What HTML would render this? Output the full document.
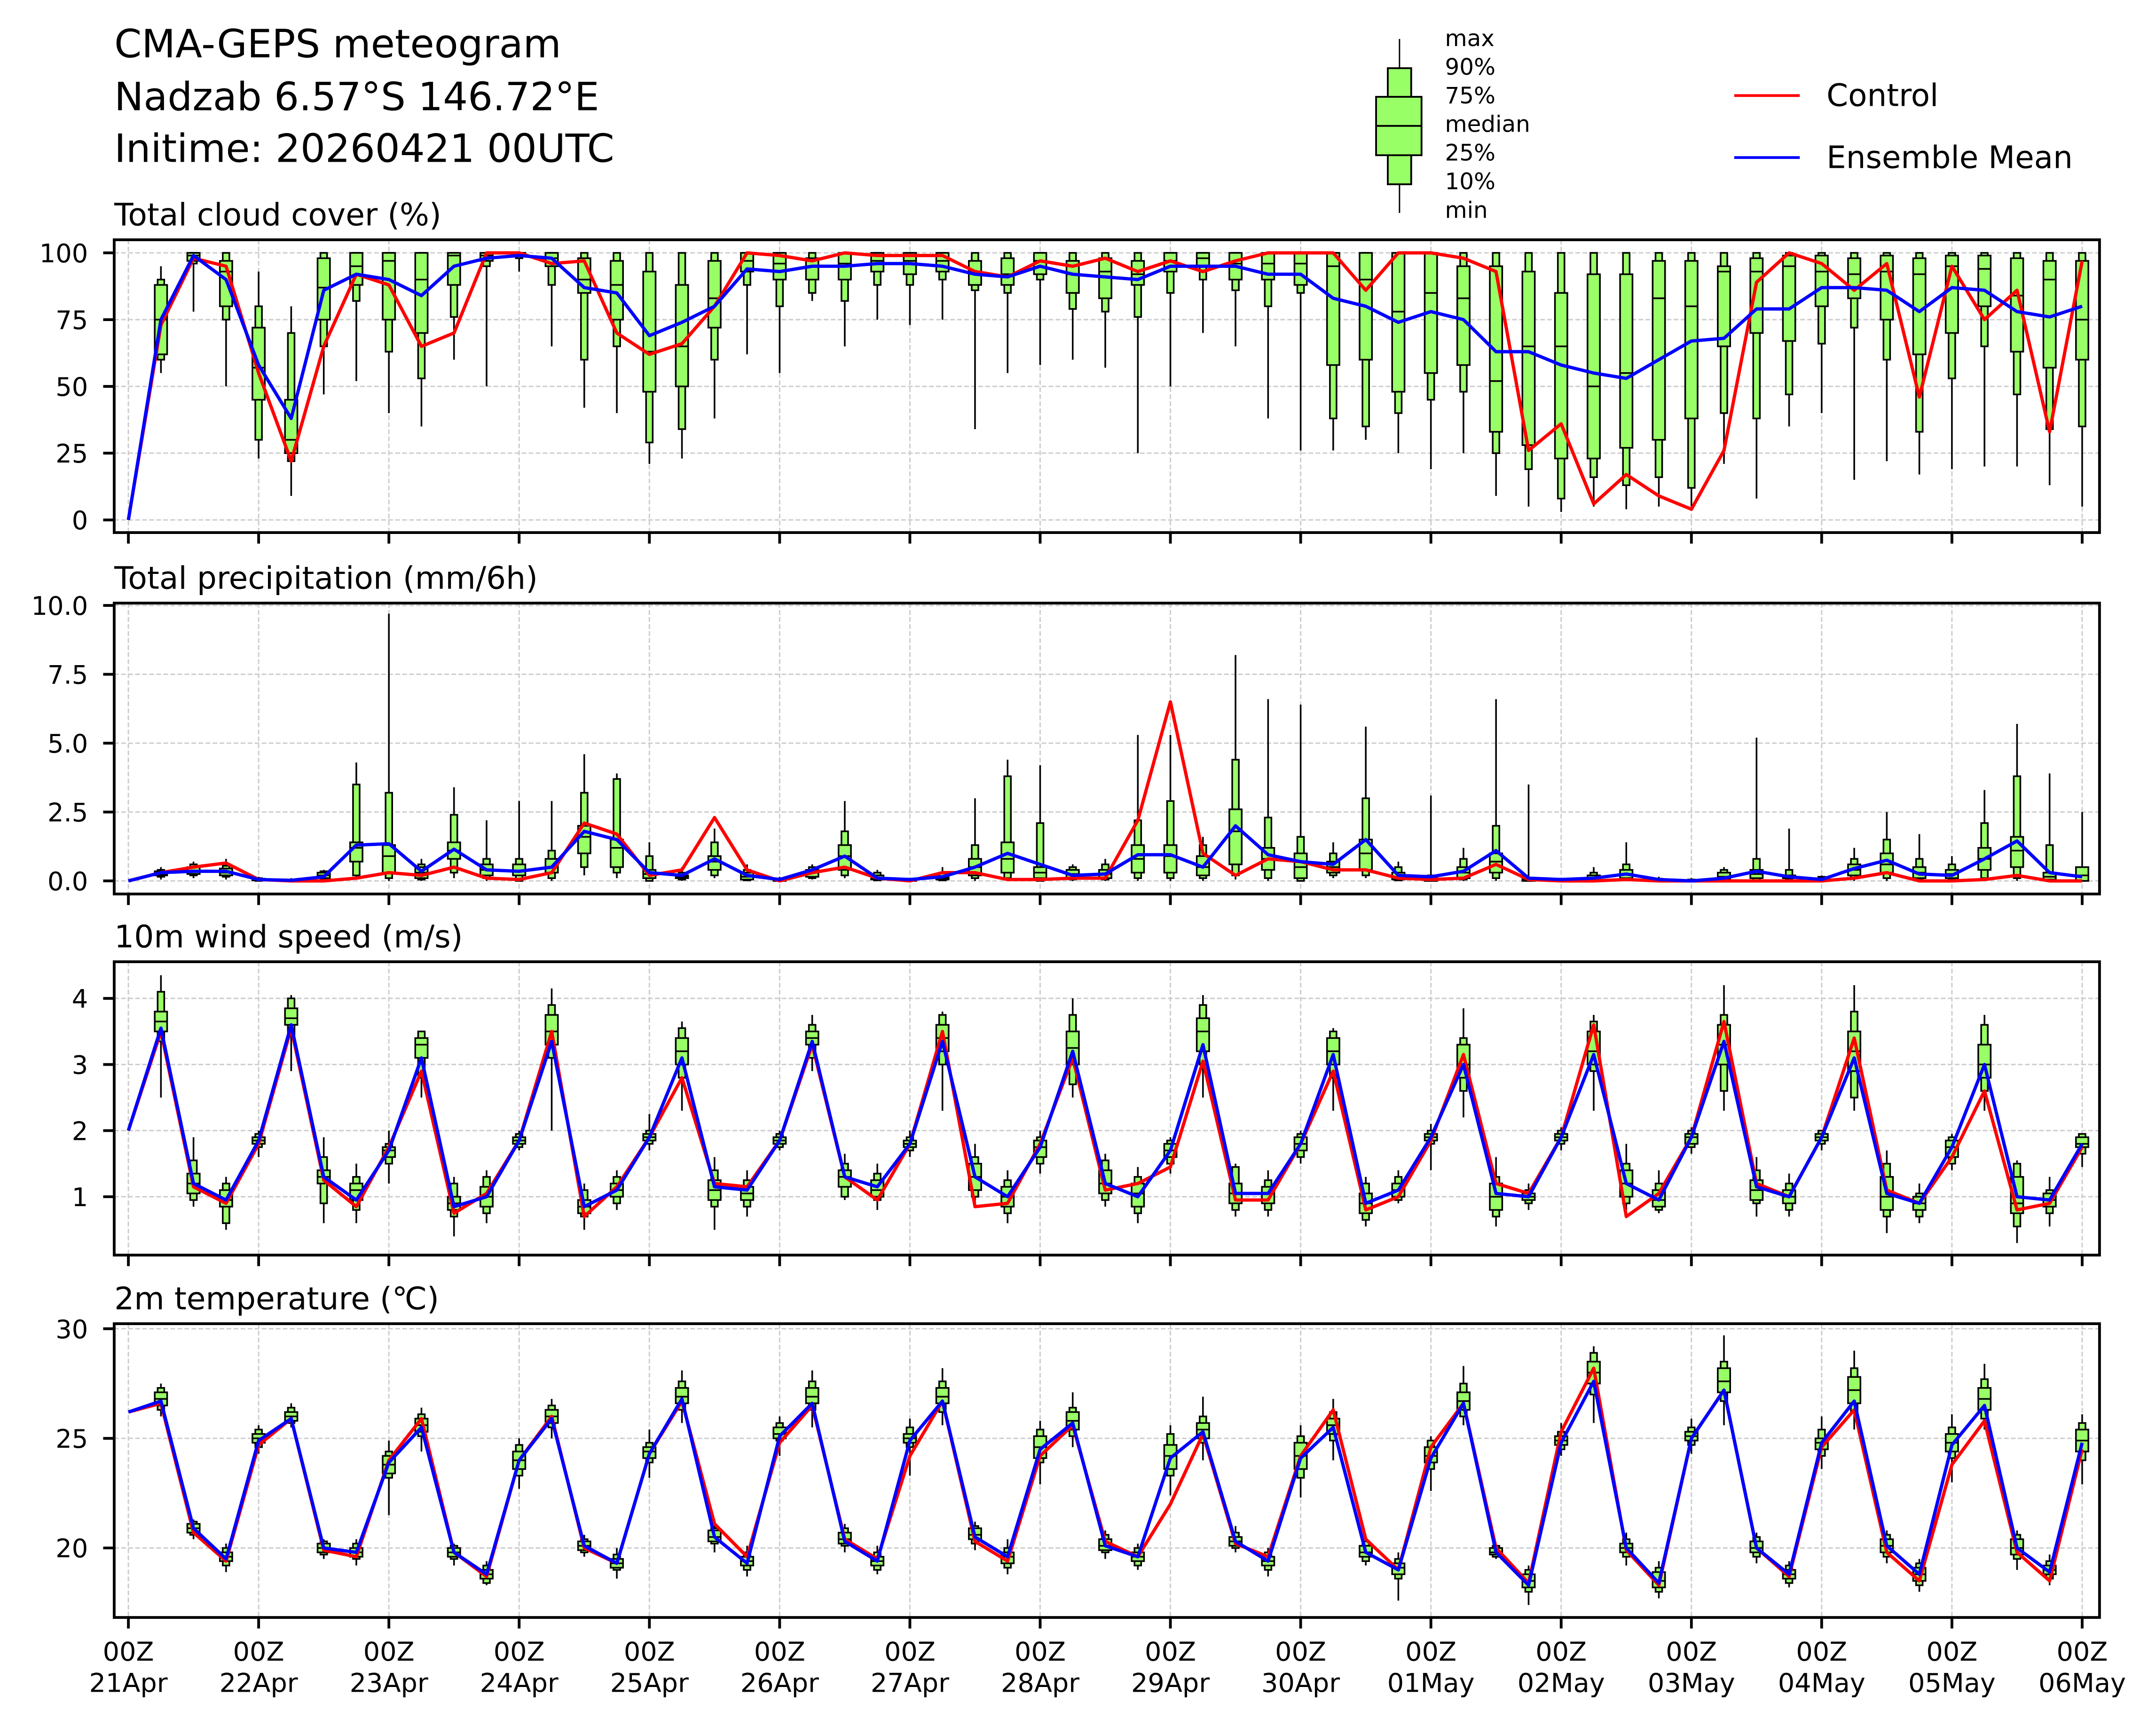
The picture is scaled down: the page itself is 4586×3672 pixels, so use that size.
<!DOCTYPE html>
<html><head><meta charset="utf-8"><style>
html,body{margin:0;padding:0;background:#fff;}
svg{display:block;font-family:"DejaVu Sans","Liberation Sans",sans-serif;}
</style></head><body>
<svg id="chart" xmlns="http://www.w3.org/2000/svg" width="4586" height="3672" viewBox="0 0 1565.2 1253.2" preserveAspectRatio="none">
<rect x="0" y="0" width="1565.2" height="1253.2" fill="#fff"/>
<g font-size="28.4" fill="#000">
<text x="83" y="41.7">CMA-GEPS meteogram</text>
<text x="83" y="80">Nadzab 6.57°S 146.72°E</text>
<text x="83" y="117.5">Initime: 20260421 00UTC</text>
</g>
<g>
<line x1="1016" y1="28.3" x2="1016" y2="154.6" stroke="#000" stroke-width="1"/>
<rect x="1007.5" y="49.5" width="17" height="84.3" fill="#99ff66" stroke="#000" stroke-width="1.3"/>
<rect x="999" y="70.3" width="33" height="42.4" fill="#99ff66" stroke="#000" stroke-width="1.3"/>
<line x1="999" y1="91.4" x2="1032" y2="91.4" stroke="#000" stroke-width="1.3"/>
<g font-size="16.5" fill="#000">
<text x="1049" y="33.4">max</text><text x="1049" y="54.2">90%</text><text x="1049" y="75">75%</text><text x="1049" y="95.8">median</text><text x="1049" y="116.6">25%</text><text x="1049" y="137.4">10%</text><text x="1049" y="158.2">min</text>
</g></g>
<g>
<line x1="1259" y1="69.4" x2="1306.6" y2="69.4" stroke="#ff0000" stroke-width="2"/>
<text x="1326" y="77" font-size="22.5">Control</text>
<line x1="1259" y1="114.4" x2="1306.6" y2="114.4" stroke="#0000ff" stroke-width="2"/>
<text x="1326" y="122" font-size="22.5">Ensemble Mean</text>
</g>
<g id="plots"></g>
</svg>
<script>
// ---- Cloud cover (%) ----
const cloudMed=[null,75,99,93,57,30,87,95,97,90,99,99,100,98,90,88,63,65,83,97,96,95,96,97,97,97,93,92,97,92,93,92,97,98,96,96,96,95,90,78,85,83,52,65,65,50,55,83,80,93,93,95,93,92,93,92,95,94,84,90,75];
const cloudQ1=[null,62,97,80,45,25,75,88,75,70,88,97,99,95,85,75,48,50,72,93,90,90,90,93,92,93,88,88,92,85,83,88,93,95,90,90,88,58,60,48,55,58,33,28,23,23,27,30,38,65,70,67,80,83,75,62,70,80,63,57,60];
const cloudQ3=[null,88,100,97,72,45,98,100,100,100,100,100,100,100,98,97,93,88,97,100,100,98,100,100,100,100,97,98,100,97,98,97,100,100,100,100,100,100,100,100,100,95,95,93,85,92,92,97,97,95,98,99,99,98,99,98,99,99,98,97,97];
const cloudP10=[null,60,96,75,30,22,65,82,63,53,76,95,98,88,60,65,29,34,60,88,80,85,82,88,88,90,86,85,90,79,78,76,85,90,86,80,85,38,35,40,45,48,25,19,8,16,13,16,12,40,38,47,66,72,60,33,53,65,47,34,35];
const cloudP90=[null,90,100,100,80,70,100,100,100,100,100,100,100,100,100,100,100,100,100,100,100,100,100,100,100,100,100,100,100,100,100,100,100,100,100,100,100,100,100,100,100,100,100,100,100,100,100,100,100,100,100,100,100,100,100,100,100,100,100,100,100];
const cloudMin=[null,55,78,50,23,9,47,52,40,35,60,50,93,65,42,40,21,23,38,62,55,82,65,75,73,75,34,55,58,60,57,25,50,70,65,38,26,26,30,25,19,25,9,5,3,5,4,5,5,21,8,35,40,15,22,17,19,20,20,13,5];
const cloudMax=[null,95,100,100,93,80,100,100,100,100,100,100,100,100,100,100,100,100,100,100,100,100,100,100,100,100,100,100,100,100,100,100,100,100,100,100,100,100,100,100,100,100,100,100,100,100,100,100,100,100,100,100,100,100,100,100,100,100,100,100,100];
const cloudCtrl=[0,73,98,95,55,22,65,92,88,65,70,100,100,96,97,70,62,66,80,100,99,97,100,99,99,99,93,91,97,95,98,93,97,93,97,100,100,100,86,100,100,98,93,26,36,6,17,9,4,26,89,100,96,86,96,46,95,75,86,33,97];
const cloudMean=[0,75,99,90,58,38,86,92,90,84,95,98,99,98,87,85,69,74,80,94,93,95,95,96,96,95,92,91,95,92,91,90,95,95,95,92,92,83,80,74,78,75,63,63,58,55,53,60,67,68,79,79,87,87,86,78,87,86,78,76,80];

// ---- Precipitation (mm/6h) ----
const prMed=[null,0.25,0.35,0.3,0.05,0.02,0.2,1.2,0.9,0.3,1.1,0.4,0.35,0.5,1.6,1.2,0.25,0.15,0.7,0.15,0.02,0.3,0.9,0.1,0.02,0.1,0.5,0.8,0.3,0.25,0.25,0.8,0.9,0.5,1.8,0.8,0.5,0.5,1.0,0.15,0.05,0.3,0.7,0.05,0.0,0.1,0.25,0.02,0.0,0.15,0.25,0.15,0.05,0.4,0.6,0.3,0.25,0.8,1.1,0.15,0.2];
const prQ1=[null,0.2,0.25,0.2,0.02,0.0,0.1,0.7,0.3,0.1,0.8,0.2,0.2,0.3,1.0,0.5,0.1,0.1,0.4,0.05,0.0,0.15,0.4,0.05,0.0,0.05,0.2,0.3,0.1,0.1,0.1,0.3,0.3,0.2,0.6,0.4,0.1,0.3,0.4,0.05,0.0,0.1,0.3,0.0,0.0,0.05,0.1,0.0,0.0,0.05,0.1,0.1,0.0,0.2,0.3,0.1,0.1,0.4,0.5,0.05,0.0];
const prQ3=[null,0.35,0.5,0.45,0.08,0.03,0.3,1.4,1.3,0.5,1.4,0.6,0.6,0.8,2.0,1.5,0.4,0.2,0.9,0.3,0.05,0.4,1.3,0.2,0.05,0.15,0.8,1.4,0.5,0.4,0.4,1.3,1.3,0.9,2.6,1.2,1.0,0.7,1.5,0.3,0.1,0.5,1.0,0.1,0.03,0.2,0.4,0.05,0.02,0.3,0.4,0.2,0.1,0.6,1.0,0.5,0.4,1.2,1.6,0.3,0.5];
const prP10=[null,0.15,0.2,0.15,0.0,0.0,0.05,0.2,0.1,0.05,0.3,0.1,0.0,0.1,0.5,0.3,0.0,0.05,0.2,0.02,0.0,0.1,0.2,0.02,0.0,0.02,0.1,0.1,0.0,0.05,0.05,0.1,0.1,0.1,0.2,0.1,0.0,0.2,0.2,0.02,0.0,0.05,0.1,0.0,0.0,0.02,0.05,0.0,0.0,0.02,0.0,0.05,0.0,0.1,0.1,0.05,0.05,0.1,0.1,0.0,0.0];
const prP90=[null,0.4,0.6,0.55,0.1,0.05,0.35,3.5,3.2,0.6,2.4,0.8,0.8,1.1,3.2,3.7,0.9,0.3,1.4,0.4,0.08,0.5,1.8,0.3,0.08,0.3,1.3,3.8,2.1,0.5,0.6,2.2,2.9,1.3,4.4,2.3,1.6,1.0,3.0,0.5,0.2,0.8,2.0,0.1,0.05,0.3,0.6,0.08,0.05,0.4,0.8,0.4,0.15,0.8,1.5,0.8,0.6,2.1,3.8,1.3,0.5];
const prMin=[null,0.05,0.1,0.05,0.0,0.0,0.0,0.05,0.0,0.0,0.1,0.0,0.0,0.0,0.2,0.1,0.0,0.0,0.1,0.0,0.0,0.05,0.1,0.0,0.0,0.0,0.0,0.0,0.0,0.0,0.0,0.0,0.0,0.0,0.05,0.0,0.0,0.1,0.1,0.0,0.0,0.0,0.0,0.0,0.0,0.0,0.0,0.0,0.0,0.0,0.0,0.0,0.0,0.0,0.0,0.0,0.0,0.0,0.0,0.0,0.0];
const prMax=[null,0.5,0.7,0.8,0.15,0.1,0.4,4.3,9.7,0.8,3.4,2.2,2.9,2.9,4.6,3.9,1.4,0.5,1.9,0.6,0.15,0.6,2.9,0.4,0.1,0.5,3.0,4.4,4.2,0.6,0.8,5.3,5.3,1.6,8.2,6.6,6.4,1.4,5.6,0.7,3.1,1.2,6.6,3.5,0.1,0.5,1.4,0.15,0.1,0.5,5.2,1.9,0.2,1.2,2.5,1.7,0.9,3.3,5.7,3.9,2.5];
const prCtrl=[0,0.3,0.5,0.65,0.05,0.0,0.0,0.1,0.3,0.2,0.5,0.1,0.05,0.3,2.1,1.7,0.2,0.4,2.3,0.4,0.0,0.3,0.5,0.1,0.0,0.3,0.3,0.05,0.05,0.1,0.1,2.2,6.5,1.0,0.2,0.8,0.7,0.4,0.4,0.1,0.05,0.1,0.6,0.05,0.0,0.0,0.05,0.0,0.0,0.0,0.0,0.0,0.0,0.1,0.3,0.0,0.0,0.05,0.2,0.0,0.0];
const prMean=[0,0.3,0.35,0.35,0.05,0.02,0.15,1.3,1.35,0.35,1.15,0.4,0.35,0.5,1.8,1.5,0.3,0.2,0.8,0.2,0.05,0.4,0.9,0.1,0.05,0.15,0.5,1.0,0.6,0.2,0.25,0.95,0.95,0.5,2.0,0.95,0.7,0.6,1.5,0.2,0.15,0.35,1.1,0.1,0.05,0.1,0.25,0.05,0.0,0.1,0.35,0.15,0.05,0.45,0.75,0.25,0.2,0.8,1.45,0.3,0.15];

// ---- 10m wind speed (m/s) ----
const wsMed=[null,3.65,1.2,0.95,1.85,3.7,1.3,1.1,1.7,3.3,0.9,1.0,1.85,3.5,0.85,1.1,1.9,3.2,1.1,1.05,1.85,3.4,1.3,1.1,1.8,3.4,1.3,1.0,1.75,3.25,1.2,1.05,1.7,3.5,1.05,1.05,1.8,3.2,0.9,1.1,1.9,3.0,1.0,1.0,1.9,3.2,1.2,0.95,1.9,3.3,1.1,1.0,1.9,3.2,1.0,0.9,1.75,3.0,0.9,0.95,1.8];
const wsQ1=[null,3.5,1.05,0.85,1.8,3.6,1.2,0.95,1.6,3.1,0.8,0.85,1.8,3.3,0.75,1.0,1.85,3.0,0.95,0.95,1.8,3.3,1.15,1.0,1.75,3.2,1.1,0.85,1.6,3.0,1.05,0.85,1.6,3.2,0.9,0.9,1.7,3.0,0.75,1.0,1.85,2.8,0.8,0.95,1.85,3.0,1.0,0.85,1.8,3.0,0.95,0.9,1.85,2.9,0.8,0.8,1.6,2.8,0.75,0.85,1.75];
const wsQ3=[null,3.8,1.35,1.1,1.9,3.85,1.4,1.2,1.75,3.4,1.0,1.15,1.9,3.75,0.95,1.2,1.95,3.4,1.25,1.15,1.9,3.5,1.4,1.25,1.85,3.6,1.5,1.15,1.85,3.5,1.4,1.2,1.8,3.7,1.2,1.15,1.9,3.4,1.05,1.2,1.95,3.3,1.2,1.05,1.95,3.5,1.4,1.1,1.95,3.6,1.25,1.1,1.95,3.5,1.3,1.0,1.85,3.3,1.3,1.05,1.9];
const wsP10=[null,3.35,0.95,0.6,1.75,3.45,0.9,0.8,1.5,2.8,0.7,0.75,1.75,3.1,0.7,0.9,1.8,2.8,0.85,0.85,1.75,3.1,1.0,0.95,1.7,3.0,1.0,0.75,1.5,2.7,0.95,0.75,1.5,3.0,0.8,0.8,1.6,2.8,0.65,0.95,1.8,2.6,0.7,0.9,1.8,2.9,0.9,0.8,1.75,2.6,0.9,0.8,1.8,2.5,0.7,0.7,1.5,2.6,0.55,0.75,1.65];
const wsP90=[null,4.1,1.55,1.2,1.95,4.0,1.6,1.3,1.8,3.5,1.2,1.3,1.95,3.9,1.1,1.3,2.0,3.55,1.4,1.25,1.95,3.6,1.5,1.35,1.9,3.75,1.6,1.25,1.9,3.75,1.55,1.3,1.85,3.9,1.45,1.25,1.95,3.5,1.2,1.3,2.0,3.4,1.3,1.1,2.0,3.65,1.5,1.2,2.0,3.75,1.4,1.2,2.0,3.8,1.5,1.05,1.9,3.6,1.5,1.1,1.95];
const wsMin=[null,2.5,0.85,0.5,1.6,2.9,0.6,0.6,1.2,2.5,0.4,0.6,1.7,2.0,0.5,0.8,1.7,2.3,0.5,0.7,1.7,2.9,0.95,0.8,1.6,2.3,0.9,0.6,1.35,2.5,0.85,0.6,1.35,2.5,0.7,0.7,1.5,2.3,0.55,0.9,1.4,2.2,0.55,0.8,1.7,2.3,0.8,0.75,1.65,2.3,0.7,0.7,1.7,2.3,0.45,0.6,1.4,2.3,0.3,0.55,1.45];
const wsMax=[null,4.35,1.9,1.3,2.0,4.05,1.9,1.5,2.0,3.5,1.3,1.4,2.0,4.15,1.2,1.4,2.25,3.65,1.6,1.4,2.0,3.75,1.65,1.5,2.0,3.8,1.8,1.4,2.0,4.0,1.65,1.45,1.9,4.05,1.5,1.4,2.0,3.55,1.3,1.4,2.1,3.85,1.6,1.2,2.05,3.75,1.8,1.4,2.05,4.2,1.6,1.35,2.0,4.2,1.7,1.2,1.95,3.75,1.55,1.3,1.95];
const wsCtrl=[2.0,3.5,1.15,0.9,1.8,3.55,1.25,0.85,1.75,2.9,0.75,1.05,1.85,3.5,0.7,1.15,1.9,2.8,1.2,1.15,1.85,3.3,1.3,0.95,1.8,3.5,0.85,0.9,1.8,3.1,1.1,1.2,1.45,3.05,0.95,0.95,1.8,2.9,0.8,1.0,1.85,3.15,1.2,1.05,1.9,3.6,0.7,1.05,1.9,3.65,1.2,1.0,1.9,3.4,1.1,0.9,1.6,2.6,0.8,0.9,1.75];
const wsMean=[2.0,3.55,1.2,0.95,1.85,3.6,1.3,0.95,1.7,3.1,0.85,1.0,1.85,3.35,0.85,1.1,1.9,3.1,1.15,1.1,1.85,3.35,1.3,1.15,1.8,3.35,1.3,1.0,1.75,3.2,1.2,1.0,1.7,3.3,1.05,1.05,1.8,3.15,0.9,1.1,1.9,3.0,1.05,1.0,1.9,3.15,1.2,0.95,1.9,3.35,1.15,1.0,1.9,3.1,1.05,0.9,1.75,3.0,1.0,0.95,1.8];

// ---- 2m temperature (°C) ----
const tMed=[null,26.8,20.9,19.6,25.0,26.0,20.0,19.8,23.8,25.6,19.8,18.8,24.0,26.0,20.1,19.3,24.4,26.9,20.5,19.4,25.2,26.9,20.4,19.4,25.0,26.9,20.6,19.6,24.6,25.8,20.1,19.6,24.2,25.4,20.3,19.4,24.2,25.6,19.8,19.1,24.2,26.7,19.8,18.5,24.9,28.0,20.0,18.5,25.1,27.6,20.0,18.8,24.8,27.2,20.1,18.8,24.8,26.8,20.0,19.0,24.9];
const tQ1=[null,26.5,20.7,19.4,24.8,25.8,19.8,19.6,23.4,25.3,19.6,18.6,23.6,25.7,19.9,19.1,24.1,26.6,20.3,19.2,25.0,26.6,20.2,19.2,24.8,26.6,20.4,19.3,24.1,25.4,19.9,19.4,23.6,25.0,20.1,19.2,23.6,25.2,19.6,18.8,23.9,26.3,19.7,18.2,24.7,27.5,19.8,18.2,24.9,27.1,19.8,18.6,24.5,26.6,19.8,18.5,24.4,26.3,19.7,18.8,24.4];
const tQ3=[null,27.1,21.1,19.8,25.2,26.2,20.2,20.0,24.2,25.9,20.0,19.0,24.4,26.3,20.3,19.5,24.6,27.3,20.8,19.6,25.5,27.3,20.7,19.6,25.2,27.3,20.9,19.8,25.1,26.2,20.4,19.8,24.7,25.7,20.5,19.6,24.8,25.9,20.1,19.3,24.6,27.1,20.0,18.8,25.1,28.5,20.2,18.9,25.3,28.2,20.3,19.0,25.0,27.8,20.4,19.1,25.2,27.3,20.4,19.2,25.4];
const tP10=[null,26.3,20.6,19.2,24.6,25.7,19.7,19.5,23.2,25.1,19.5,18.4,23.3,25.5,19.8,19.0,23.9,26.3,20.2,19.0,24.9,26.3,20.1,19.0,24.6,26.2,20.2,19.1,23.9,25.1,19.8,19.2,23.3,24.8,20.0,19.0,23.2,24.9,19.4,18.6,23.6,26.0,19.6,18.0,24.5,27.0,19.6,18.0,24.7,26.7,19.6,18.4,24.2,26.2,19.6,18.3,24.1,25.9,19.5,18.6,24.0];
const tP90=[null,27.3,21.2,20.0,25.4,26.4,20.3,20.2,24.4,26.1,20.1,19.2,24.7,26.5,20.4,19.7,24.8,27.6,20.9,19.8,25.7,27.6,20.9,19.8,25.5,27.6,21.0,20.0,25.4,26.4,20.6,20.0,25.2,26.0,20.7,19.8,25.1,26.2,20.3,19.5,24.9,27.5,20.1,19.0,25.3,28.9,20.4,19.1,25.5,28.5,20.5,19.2,25.4,28.2,20.6,19.3,25.5,27.7,20.6,19.4,25.7];
const tMin=[null,26.0,20.4,18.9,24.3,25.5,19.5,19.2,21.5,24.4,19.2,18.3,22.7,25.0,19.6,18.6,23.2,25.7,19.8,18.7,24.2,25.5,19.8,18.8,23.3,25.6,19.9,18.8,22.9,24.6,19.5,19.0,22.4,24.0,19.8,18.7,22.3,24.0,19.2,17.6,22.6,25.6,19.5,17.4,24.2,25.7,19.2,17.7,24.3,25.6,19.3,18.2,23.6,25.4,19.3,18.0,23.0,25.4,19.0,18.3,22.9];
const tMax=[null,27.5,21.3,20.2,25.6,26.6,20.4,20.4,24.9,26.4,20.2,19.4,25.0,26.8,20.6,20.0,25.4,28.1,21.3,20.1,26.0,28.1,21.1,20.1,25.9,28.2,21.2,20.4,25.8,27.1,20.8,20.2,25.6,26.9,21.0,20.0,25.6,26.8,20.5,19.8,25.1,28.3,20.1,19.2,25.7,29.2,20.7,19.4,25.9,29.7,20.7,19.4,26.0,29.0,20.8,19.5,26.1,28.4,20.8,19.7,26.1];
const tCtrl=[26.2,26.6,20.7,19.4,24.7,25.9,19.9,19.6,24.0,25.9,19.8,18.7,24.0,26.0,20.0,19.3,24.3,26.7,21.1,19.6,24.8,26.5,20.4,19.5,24.2,26.7,20.3,19.4,24.2,25.6,20.3,19.6,22.0,25.2,20.2,19.6,24.2,26.3,20.4,19.0,24.6,26.6,20.0,18.4,25.3,28.2,19.9,18.3,25.0,27.2,20.0,18.7,24.6,26.3,19.8,18.5,23.8,25.8,19.8,18.5,24.5];
const tMean=[26.2,26.7,20.9,19.5,24.9,25.9,20.0,19.8,23.9,25.5,19.8,18.8,24.0,25.9,20.1,19.3,24.3,26.8,20.5,19.3,25.1,26.6,20.3,19.4,24.9,26.7,20.5,19.6,24.5,25.7,20.1,19.6,24.1,25.3,20.3,19.4,24.1,25.5,19.8,19.0,24.1,26.6,19.8,18.3,24.8,27.6,20.0,18.4,25.0,27.2,20.0,18.8,24.8,26.7,20.1,18.8,24.7,26.5,20.0,18.9,24.8];

// axis tick labels
const dayLabels=["21Apr","22Apr","23Apr","24Apr","25Apr","26Apr","27Apr","28Apr","29Apr","30Apr","01May","02May","03May","04May","05May","06May"];
const cloudTicks=[0,25,50,75,100];
const prTicks=[0,2.5,5,7.5,10];
const wsTicks=[1,2,3,4];
const tTicks=[20,25,30];

const NS="http://www.w3.org/2000/svg";
const root=document.getElementById('plots');
const X0=93.2, STEP=23.64, AXL=82.9, AXR=1524.2;
function xs(i){return X0+STEP*i;}
function mk(tag,attrs,parent){const e=document.createElementNS(NS,tag);for(const k in attrs)e.setAttribute(k,attrs[k]);(parent||root).appendChild(e);return e;}

const panels=[
 {name:'cloud',title:'Total cloud cover (%)',top:174.1,bot:386.7,ymin:-4.74,ymax:104.9,ticks:cloudTicks,fmt:v=>String(v),d:[cloudMed,cloudQ1,cloudQ3,cloudP10,cloudP90,cloudMin,cloudMax,cloudCtrl,cloudMean]},
 {name:'precip',title:'Total precipitation (mm/6h)',top:437.9,bot:649.1,ymin:-0.475,ymax:10.085,ticks:prTicks,fmt:v=>v.toFixed(1),d:[prMed,prQ1,prQ3,prP10,prP90,prMin,prMax,prCtrl,prMean]},
 {name:'wind',title:'10m wind speed (m/s)',top:698.3,bot:911.3,ymin:0.117,ymax:4.554,ticks:wsTicks,fmt:v=>String(v),d:[wsMed,wsQ1,wsQ3,wsP10,wsP90,wsMin,wsMax,wsCtrl,wsMean]},
 {name:'temp',title:'2m temperature (℃)',top:961.1,bot:1174.4,ymin:16.83,ymax:30.23,ticks:tTicks,fmt:v=>String(v),d:[tMed,tQ1,tQ3,tP10,tP90,tMin,tMax,tCtrl,tMean]}
];

panels.forEach((p,pi)=>{
  const g=mk('g',{});
  
  
  const ys=v=>p.bot-(v-p.ymin)/(p.ymax-p.ymin)*(p.bot-p.top);
  const t=mk('text',{x:83,y:p.top-10.5,'font-size':22.6,fill:'#000'},g);
  t.textContent=p.title;
  
  
  for(let d=0;d<dayLabels.length;d++){
    const x=xs(d*4);
    const gl=mk('line',{x1:x,x2:x,y1:p.top,y2:p.bot,stroke:'#cccccc','stroke-width':1,'stroke-dasharray':'3.4,1.7'},g);
    
    
    const tk=mk('line',{x1:x,x2:x,y1:p.bot,y2:p.bot+8,stroke:'#000','stroke-width':2},g);
    
    
    if(pi===3){
      const l1=mk('text',{x:x,y:p.bot+31.4,'font-size':19,'text-anchor':'middle'},g);l1.textContent='00Z';
      
      
      const l2=mk('text',{x:x,y:p.bot+54,'font-size':19,'text-anchor':'middle'},g);l2.textContent=dayLabels[d];
      
      
    }
  }
  p.ticks.forEach(v=>{
    const y=ys(v);
    const gl=mk('line',{x1:AXL,x2:AXR,y1:y,y2:y,stroke:'#cccccc','stroke-width':1,'stroke-dasharray':'3.4,1.7'},g);
    
    
    const tk=mk('line',{x1:AXL-8,x2:AXL,y1:y,y2:y,stroke:'#000','stroke-width':2},g);
    
    
    const tl=mk('text',{x:AXL-19,y:y+6.8,'font-size':18.5,'text-anchor':'end'},g);
    tl.textContent=p.fmt(v);
    
    
  });
  const [med,q1,q3,p10,p90,mn,mx,ctrl,mean]=p.d;
  for(let i=1;i<med.length;i++){
    if(med[i]===null)continue;
    const x=xs(i);
    const bg=mk('g',{},g);
    
    
    mk('line',{x1:x,x2:x,y1:ys(mn[i]),y2:ys(mx[i]),stroke:'#000','stroke-width':1.2},bg);
    const y90=ys(p90[i]),y10=ys(p10[i]);
    mk('rect',{x:x-2.4,y:y90,width:4.8,height:Math.max(0.3,y10-y90),fill:'#99ff66',stroke:'#000','stroke-width':1.2},bg);
    const y75=ys(q3[i]),y25=ys(q1[i]);
    mk('rect',{x:x-4.5,y:y75,width:9,height:Math.max(0.3,y25-y75),fill:'#99ff66',stroke:'#000','stroke-width':1.2},bg);
    mk('line',{x1:x-4.5,x2:x+4.5,y1:ys(med[i]),y2:ys(med[i]),stroke:'#000','stroke-width':1.2},bg);
  }
  const pts=a=>a.map((v,i)=>xs(i).toFixed(2)+','+ys(v).toFixed(2)).join(' ');
  const cl=mk('polyline',{points:pts(ctrl),fill:'none',stroke:'#ff0000','stroke-width':2.4,'stroke-linejoin':'round'},g);
  
  
  const ml=mk('polyline',{points:pts(mean),fill:'none',stroke:'#0000ff','stroke-width':2.4,'stroke-linejoin':'round'},g);
  
  
  const fr=mk('rect',{x:AXL,y:p.top,width:AXR-AXL,height:p.bot-p.top,fill:'none',stroke:'#000','stroke-width':2},g);
  
  
});
</script>
</body></html>
